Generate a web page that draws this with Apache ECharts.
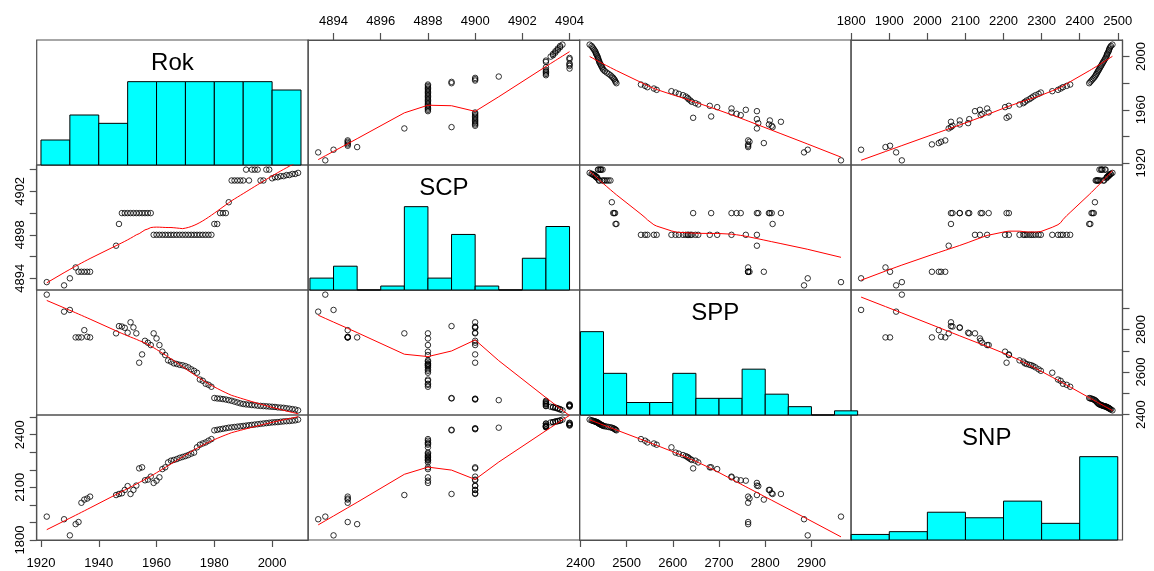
<!DOCTYPE html>
<html>
<head>
<meta charset="utf-8">
<script src="https://cdn.jsdelivr.net/npm/echarts@6/dist/echarts.min.js"></script>
<style>html,body{margin:0;padding:0;background:#fff}#c{width:1154px;height:571px}</style>
</head>
<body>
<div id="c"></div>
<script>
// ---------------- data ----------------
const varNames = ['Rok', 'SCP', 'SPP', 'SNP'];
const rok = [1922,1928,1930,1932,1933,1934,1935,1936,1937,
  1946,1947,1948,1949,1950,1951,1952,1953,1954,1955,1956,1957,1958,1959,1960,1961,1962,1963,1964,1965,
  1966,1967,1968,1969,1970,1971,1972,1973,1974,1975,1976,1977,1978,1979,1980,1981,1982,1983,1984,1985,
  1986,1987,1988,1989,1990,1991,1992,1993,1994,1995,1996,1997,1998,1999,2000,2001,2002,2003,2004,2005,
  2006,2007,2008,2009];
const scp = [4893.65,4893.35,4894,4895,4894.6,4894.6,4894.6,4894.6,4894.6,
  4897,4899,4900,4900,4900,4900,4900,4900,4900,4900,4900,4900,4900,4898,4898,4898,4898,4898,4898,4898,
  4898,4898,4898,4898,4898,4898,4898,4898,4898,4898,4898,4898,4898,4898,4899,4899,4900,4900,4900,4901,
  4903,4903,4903,4903,4903,4904,4903,4904,4904,4904,4903,4903,4904,4904,4903.2,4903.3,4903.3,4903.4,4903.4,4903.5,
  4903.5,4903.6,4903.6,4903.7];
const spp = [2964,2884,2892,2763,2763,2763,2797,2766,2763,
  2782,2816,2814,2808,2785,2834,2810,2782,2644,2683,2747,2738,2727,2782,2758,2727,2696,2680,2655,2649,
  2641,2638,2634,2632,2628,2622,2613,2606,2597,2565,2559,2545,2540,2531,2478,2476,2475,2473,2471,2468,
  2465,2461,2457,2453,2450,2448,2447,2445,2444,2442,2441,2440,2439,2438,2437,2436,2434,2433,2432,2430,
  2428,2426,2424,2420];
const snp = [1933,1918,1826,1890,1902,2012,2030,2036,2047,
  2056,2062,2066,2085,2107,2062,2085,2110,2208,2214,2140,2144,2161,2125,2138,2157,2204,2214,2242,2252,
  2256,2261,2268,2273,2278,2284,2292,2298,2328,2343,2350,2356,2366,2375,2425,2428,2431,2434,2437,2440,
  2442,2444,2446,2448,2450,2452,2454,2456,2458,2460,2462,2464,2466,2468,2470,2471,2472,2474,2476,2477,
  2478,2480,2482,2486];

// histogram breaks
const rokBreaks = [1920,1930,1940,1950,1960,1970,1980,1990,2000,2010];
const scpBreaks = [4893,4894,4895,4896,4897,4898,4899,4900,4901,4902,4903,4904];
const sppBreaks = [2400,2450,2500,2550,2600,2650,2700,2750,2800,2850,2900,2950,3000];
const snpBreaks = [1800,1900,2000,2100,2200,2300,2400,2500];

// axis ticks and labels (outer margins)
const rokTicks = [1920,1940,1960,1980,2000];
const rokLabelsBottom = [1920,1940,1960,1980,2000];
const rokLabelsRight = [1920,1960,2000];
const scpTicks = [4894,4896,4898,4900,4902,4904];
const scpLabelsTop = [4894,4896,4898,4900,4902,4904];
const scpLabelsLeft = [4894,4898,4902];
const sppTicks = [2400,2500,2600,2700,2800,2900];
const sppLabelsBottom = [2400,2500,2600,2700,2800,2900];
const sppLabelsRight = [2400,2600,2800];
const snpTicks = [1800,1900,2000,2100,2200,2300,2400,2500];
const snpLabelsTop = [1800,1900,2000,2100,2200,2300,2400,2500];
const snpLabelsLeft = [1800,2100,2400];

// ---------------- helpers ----------------
const vars = [rok, scp, spp, snp];
const breaks = [rokBreaks, scpBreaks, sppBreaks, snpBreaks];
const ticks = [rokTicks, scpTicks, sppTicks, snpTicks];
const labelsX = [rokLabelsBottom, scpLabelsTop, sppLabelsBottom, snpLabelsTop];
const labelsY = [rokLabelsRight, scpLabelsLeft, sppLabelsRight, snpLabelsLeft];

function ext(v) {
  const mn = Math.min.apply(null, v), mx = Math.max.apply(null, v);
  const r = mx - mn;
  return [mn - 0.04 * r, mx + 0.04 * r];
}
function histCounts(v, br) {
  const c = new Array(br.length - 1).fill(0);
  v.forEach(val => {
    for (let i = 0; i < br.length - 1; i++) {
      if ((val > br[i] || (i === 0 && val >= br[i])) && val <= br[i + 1]) { c[i]++; break; }
    }
  });
  return c;
}
// R's clowess
function lowess(xIn, yIn, f, iter) {
  const n = xIn.length;
  const idx = xIn.map((v, i) => i).sort((a, b) => (xIn[a] - xIn[b]) || (a - b));
  const x = idx.map(i => xIn[i]), y = idx.map(i => yIn[i]);
  const delta = 0.01 * (x[n - 1] - x[0]);
  const ys = new Array(n).fill(0), rw = new Array(n).fill(1), res = new Array(n).fill(0), w = new Array(n).fill(0);
  const ns = Math.max(2, Math.min(n, Math.floor(f * n + 1e-7)));
  const range = x[n - 1] - x[0];
  function lowest(xs, nleft, nright, userw) {
    const h = Math.max(xs - x[nleft], x[nright] - xs);
    const h9 = 0.999 * h, h1 = 0.001 * h;
    let a = 0, j = nleft;
    while (j < n) {
      w[j] = 0;
      const r = Math.abs(x[j] - xs);
      if (r <= h9) {
        if (r <= h1) w[j] = 1;
        else { const q = r / h; const t = 1 - q * q * q; w[j] = t * t * t; }
        if (userw) w[j] *= rw[j];
        a += w[j];
      } else if (x[j] > xs) break;
      j++;
    }
    const nrt = j - 1;
    if (a <= 0) return null;
    for (j = nleft; j <= nrt; j++) w[j] /= a;
    if (h > 0) {
      a = 0;
      for (j = nleft; j <= nrt; j++) a += w[j] * x[j];
      let b = xs - a, c = 0;
      for (j = nleft; j <= nrt; j++) c += w[j] * (x[j] - a) * (x[j] - a);
      if (Math.sqrt(c) > 0.001 * range) {
        b /= c;
        for (j = nleft; j <= nrt; j++) w[j] *= (b * (x[j] - a) + 1);
      }
    }
    let s = 0;
    for (j = nleft; j <= nrt; j++) s += w[j] * y[j];
    return s;
  }
  for (let it = 1; it <= iter + 1; it++) {
    let nleft = 0, nright = ns - 1, last = -1, i = 0;
    for (;;) {
      if (nright < n - 1) {
        const d1 = x[i] - x[nleft], d2 = x[nright + 1] - x[i];
        if (d1 > d2) { nleft++; nright++; continue; }
      }
      const v = lowest(x[i], nleft, nright, it > 1);
      ys[i] = (v === null) ? y[i] : v;
      if (last < i - 1) {
        const denom = x[i] - x[last];
        for (let j = last + 1; j < i; j++) {
          const al = (x[j] - x[last]) / denom;
          ys[j] = al * ys[i] + (1 - al) * ys[last];
        }
      }
      last = i;
      const cut = x[last] + delta;
      for (i = last + 1; i < n; i++) {
        if (x[i] > cut) break;
        if (x[i] === x[last]) { ys[i] = ys[last]; last = i; }
      }
      i = Math.max(last + 1, i - 1);
      if (last >= n - 1) break;
    }
    for (let k = 0; k < n; k++) res[k] = y[k] - ys[k];
    let sc = 0; for (let k = 0; k < n; k++) sc += Math.abs(res[k]); sc /= n;
    if (it > iter) break;
    const ar = res.map(Math.abs).sort((a, b) => a - b);
    const m1 = Math.floor(n / 2);
    let cmad;
    if (n % 2 === 0) { const m2 = n - m1 - 1; cmad = 3 * (ar[m1] + ar[m2]); } else cmad = 6 * ar[m1];
    if (cmad < 1e-7 * sc) break;
    const c9 = 0.999 * cmad, c1 = 0.001 * cmad;
    for (let k = 0; k < n; k++) {
      const r = Math.abs(res[k]);
      rw[k] = r <= c1 ? 1 : (r <= c9 ? Math.pow(1 - (r / cmad) * (r / cmad), 2) : 0);
    }
  }
  return x.map((v, k) => [v, ys[k]]);
}

// ---------------- layout ----------------
const L = 36.7, T = 40, CW = (1122.5 - 36.7) / 4, CH = 125;
const FONT = 'Liberation Sans, Arial, Helvetica, sans-serif';
const FS = 13;
const frameColor = '#505050';

const grids = [], xAxes = [], yAxes = [], series = [], graphics = [];
const exts = vars.map(ext);

for (let i = 0; i < 4; i++) {
  for (let j = 0; j < 4; j++) {
    const k = i * 4 + j;
    grids.push({ left: L + j * CW, top: T + i * CH, width: CW, height: CH,
      show: true, borderColor: frameColor, borderWidth: 1.2, backgroundColor: 'transparent', containLabel: false });

    const showTop = (i === 0 && j % 2 === 1);
    const showBottom = (i === 3 && j % 2 === 0);
    const showX = showTop || showBottom;
    xAxes.push({
      type: 'value', gridIndex: k, min: exts[j][0], max: exts[j][1],
      position: showTop ? 'top' : 'bottom',
      axisLine: { show: showX, onZero: false, lineStyle: { color: frameColor, width: 1.2 } },
      splitLine: { show: false },
      axisTick: { show: showX, customValues: ticks[j], length: 7, inside: false, lineStyle: { color: frameColor, width: 1.2 } },
      axisLabel: { show: showX, customValues: labelsX[j], color: '#000', fontSize: FS, fontFamily: FONT,
        margin: showTop ? 12 : 17, formatter: v => String(v) }
    });

    const showLeft = (j === 0 && i % 2 === 1);
    const showRight = (j === 3 && i % 2 === 0);
    const showY = showLeft || showRight;
    const diag = (i === j);
    yAxes.push({
      type: 'value', gridIndex: k,
      min: diag ? 0 : exts[i][0], max: diag ? 1.5 : exts[i][1],
      position: showRight ? 'right' : 'left',
      axisLine: { show: showY, onZero: false, lineStyle: { color: frameColor, width: 1.2 } },
      splitLine: { show: false },
      axisTick: { show: showY, customValues: ticks[i], length: 7, inside: false, lineStyle: { color: frameColor, width: 1.2 } },
      axisLabel: { show: showY, customValues: labelsY[i], color: '#000', fontSize: FS, fontFamily: FONT,
        rotate: 90, margin: showRight ? 12 : 10, formatter: v => String(v) }
    });

    if (diag) {
      const br = breaks[i];
      const cnt = histCounts(vars[i], br);
      const mx = Math.max.apply(null, cnt);
      const hdata = cnt.map((c, b) => [br[b], br[b + 1], c / mx]);
      series.push({
        type: 'custom', xAxisIndex: k, yAxisIndex: k, data: hdata, silent: true,
        renderItem: (params, api) => {
          const p0 = api.coord([api.value(0), 0]);
          const p1 = api.coord([api.value(1), api.value(2)]);
          return { type: 'rect', shape: { x: p0[0], y: p1[1], width: p1[0] - p0[0], height: p0[1] - p1[1] },
            style: { fill: '#00FFFF', stroke: '#000', lineWidth: 1 } };
        }
      });
      graphics.push({ type: 'text', x: L + j * CW + CW / 2, y: T + i * CH + CH * (1 - 0.8333) + 2.5,
        style: { text: varNames[i], fontSize: 24, fontFamily: FONT, fill: '#000', textAlign: 'center', textVerticalAlign: 'middle' } });
    } else {
      const xs = vars[j], ysv = vars[i];
      series.push({
        type: 'scatter', xAxisIndex: k, yAxisIndex: k, silent: true,
        data: xs.map((v, n) => [v, ysv[n]]),
        symbol: 'circle', symbolSize: 5.5,
        itemStyle: { color: 'rgba(0,0,0,0)', borderColor: '#000', borderWidth: 1 }
      });
      series.push({
        type: 'line', xAxisIndex: k, yAxisIndex: k, silent: true,
        data: lowess(xs, ysv, 2 / 3, 3),
        showSymbol: false, symbol: 'none', smooth: false,
        lineStyle: { color: '#FF0000', width: 1 }
      });
    }
  }
}

const chart = echarts.init(document.getElementById('c'), null, { renderer: 'canvas' });
chart.setOption({
  backgroundColor: '#fff',
  animation: false,
  grid: grids,
  xAxis: xAxes,
  yAxis: yAxes,
  series: series,
  graphic: graphics
});
</script>
</body>
</html>
